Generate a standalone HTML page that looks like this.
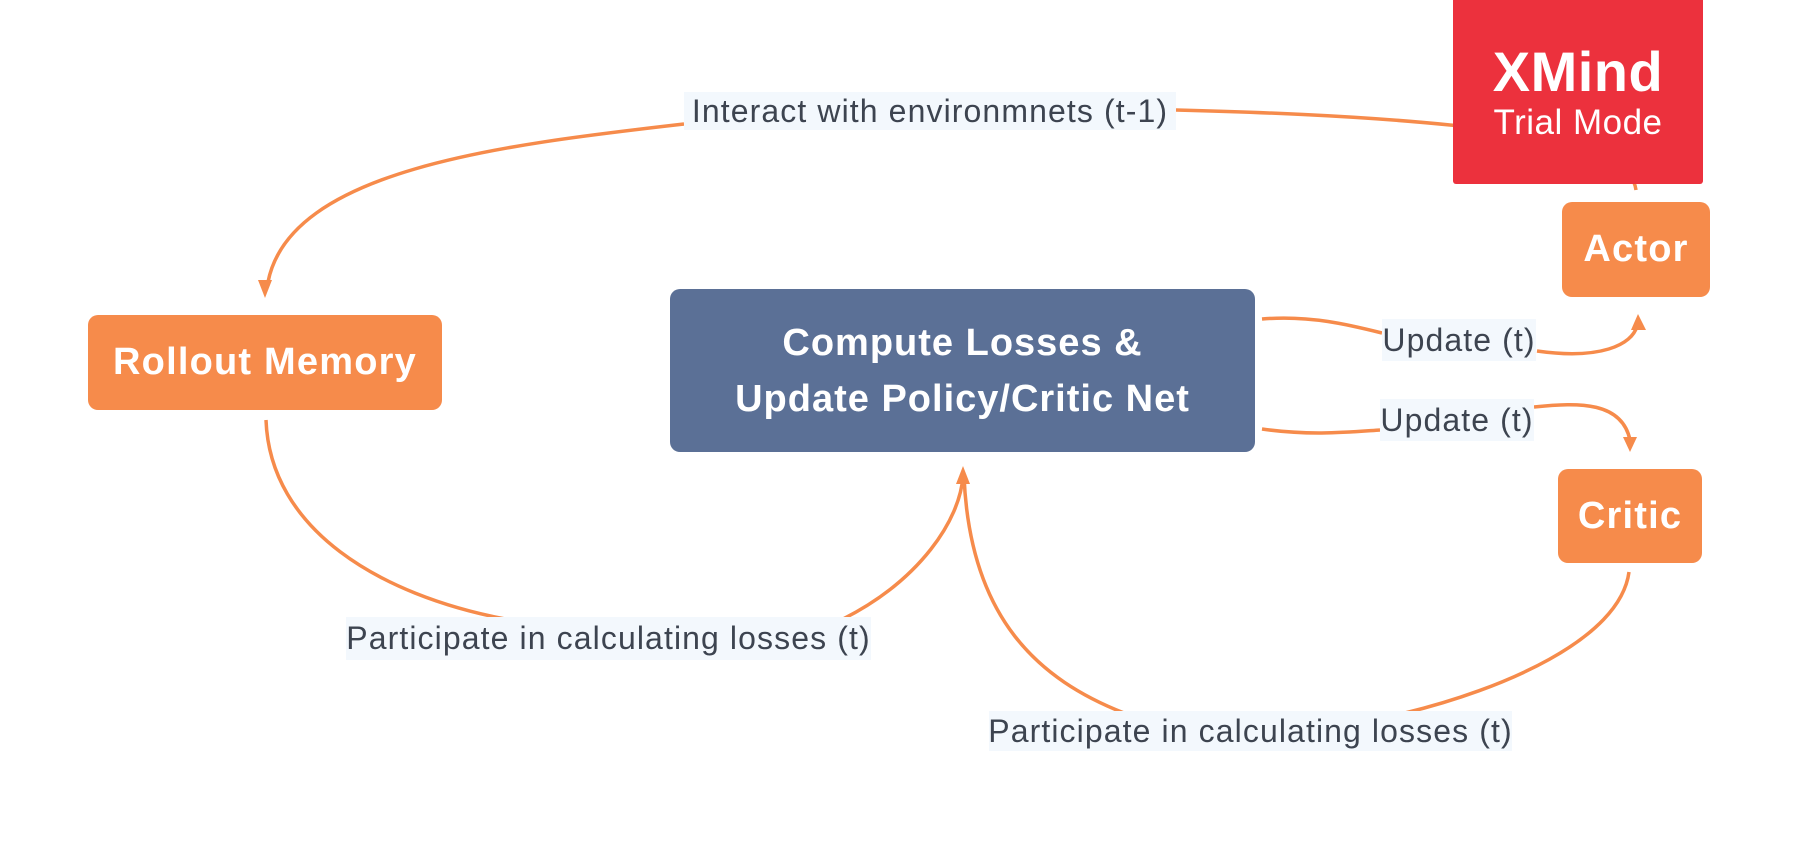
<!DOCTYPE html>
<html><head><meta charset="utf-8"><style>
body{margin:0;width:1799px;height:841px;background:#fff;position:relative;overflow:hidden;font-family:"Liberation Sans",sans-serif}
.n{position:absolute;display:flex;align-items:center;justify-content:center;text-align:center;color:#fff;font-weight:bold;border-radius:10px}
.o{background:#f68b4b;font-size:38px;letter-spacing:1.2px}
.l{position:absolute;background:#f3f8fd;color:#3d4450;font-size:32px;letter-spacing:1.1px;display:flex;align-items:center;justify-content:center;white-space:nowrap}
</style></head><body>
<svg width="1799" height="841" style="position:absolute;left:0;top:0">
<g fill="none" stroke="#f68b4b" stroke-width="3.5">
<path d="M1636,190 C1634,175 1620,140 1450,125 C1350,115 1250,112 1176,110"/>
<path d="M684,124 C500,145 290,170 268,282"/>
<path d="M266,420 C270,530 380,595 505,619"/>
<path d="M843,619 C920,580 960,520 963,476"/>
<path d="M1629,572 C1620,640 1500,690 1405,713"/>
<path d="M1124,713 C1040,680 970,620 964,476"/>
<path d="M1262,319 C1310,315 1350,325 1382,333"/>
<path d="M1537,351 C1600,360 1632,345 1637,326"/>
<path d="M1262,429 C1310,436 1350,432 1380,430"/>
<path d="M1534,407 C1580,402 1622,402 1630,440"/>
</g>
<g fill="#f68b4b">
<polygon points="265,298 258,280 272,280"/>
<polygon points="963,466 956,484 970,484"/>
<polygon points="1638,314 1631,330 1646,330"/>
<polygon points="1630,452 1623,437 1637,437"/>
</g>
</svg>
<div class="n" style="left:1453px;top:0;width:250px;height:184px;background:#ec313d;border-radius:0 0 3px 3px;flex-direction:column;font-weight:normal">
<div style="font-size:56px;font-weight:bold;line-height:62px;letter-spacing:0.5px">XMind</div>
<div style="font-size:35px;line-height:40px;letter-spacing:0.5px">Trial Mode</div></div>
<div class="n o" style="left:1562px;top:202px;width:148px;height:95px">Actor</div>
<div class="n o" style="left:88px;top:315px;width:354px;height:95px">Rollout Memory</div>
<div class="n" style="left:670px;top:289px;width:585px;height:163px;background:#5b7096;font-size:38px;letter-spacing:1px;line-height:56px">Compute Losses &amp;<br>Update Policy/Critic Net</div>
<div class="n o" style="left:1558px;top:469px;width:144px;height:94px">Critic</div>
<div class="l" style="left:684px;top:92px;width:492px;height:38px">Interact with environmnets (t-1)</div>
<div class="l" style="left:1382px;top:319px;width:154px;height:42px">Update (t)</div>
<div class="l" style="left:1380px;top:399px;width:154px;height:42px">Update (t)</div>
<div class="l" style="left:346px;top:617px;width:525px;height:43px">Participate in calculating losses (t)</div>
<div class="l" style="left:989px;top:711px;width:523px;height:40px">Participate in calculating losses (t)</div>
</body></html>
